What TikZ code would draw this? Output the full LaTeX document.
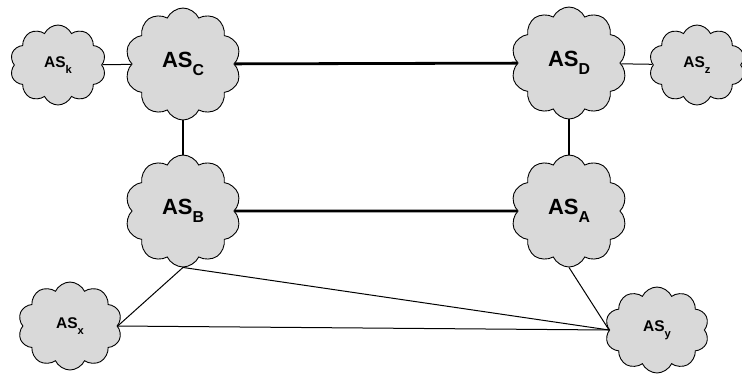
\documentclass[tikz,border=0pt]{standalone}
\usepackage{fontspec}
\setmainfont{Liberation Sans}
\usetikzlibrary{shapes.symbols}
\tikzset{
  as/.style={cloud, cloud puffs=10, cloud puff arc=130, aspect=1.05, draw=black, line width=0.9pt,
    fill=black!15, inner sep=0pt, font=\bfseries},
  big/.style={as, minimum width=116pt, minimum height=112pt, font=\bfseries\fontsize{22}{22}\selectfont},
  small/.style={as, minimum width=96pt, minimum height=80pt, font=\bfseries\fontsize{15.5}{15.5}\selectfont},
  core/.style={line width=2.8pt},
  peer/.style={line width=1pt}
}
\newcommand{\ASsub}[2]{AS\raisebox{#2}{\scalebox{0.72}{#1}}}
\begin{document}
\begin{tikzpicture}[x=1pt,y=-1pt]
\useasboundingbox (0,0) rectangle (742,378);
\node[small] (k) at (58,65) {\ASsub{k}{-5.5pt}};
\node[big] (C) at (183,64) {\ASsub{C}{-8pt}};
\node[big] (D) at (569,63) {\ASsub{D}{-8pt}};
\node[small] (z) at (697,65) {\ASsub{z}{-5.5pt}};
\node[big] (B) at (183,211) {\ASsub{B}{-8pt}};
\node[big] (A) at (569,211) {\ASsub{A}{-8pt}};
\node[small, minimum width=104pt, minimum height=88pt] (x) at (70,326) {\ASsub{x}{-5.5pt}};
\node[small, minimum width=104pt, minimum height=86pt] (y) at (657,330) {\ASsub{y}{-5.5pt}};
\draw[core] (C) -- (D);
\draw[core] (B) -- (A);
\draw[core] (C) -- (B);
\draw[core] (D) -- (A);
\draw[peer] (k) -- (C);
\draw[peer] (D) -- (z);
\draw[peer] (B.south) -- (x.east);
\draw[peer] (B.south) -- (y.west);
\draw[peer] (x.east) -- (y.west);
\draw[peer] (A.south) -- (y.west);
\end{tikzpicture}
\end{document}
